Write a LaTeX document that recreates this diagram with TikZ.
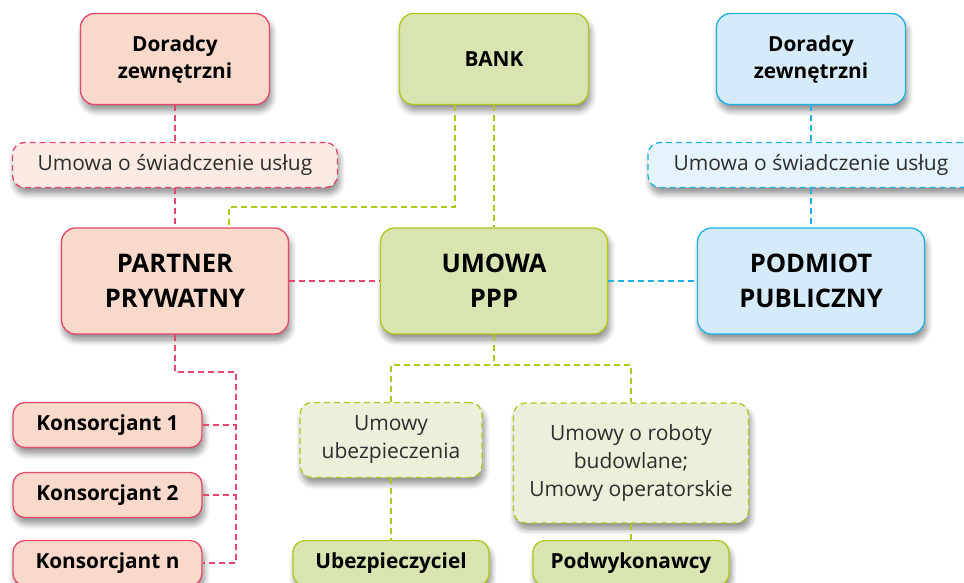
\documentclass[tikz,border=0pt]{standalone}
\usepackage{fontspec}
\setmainfont{Open Sans}
\usetikzlibrary{shadows.blur}
\definecolor{pkF}{HTML}{F9D9C9}
\definecolor{pkL}{HTML}{FCEBE5}
\definecolor{pkD}{HTML}{E5486C}
\definecolor{grF}{HTML}{D8E5B0}
\definecolor{grL}{HTML}{EBF0DA}
\definecolor{grD}{HTML}{B2C61C}
\definecolor{blF}{HTML}{D6EBF9}
\definecolor{blL}{HTML}{E5F3FC}
\definecolor{blD}{HTML}{1EB2E4}
\definecolor{txtgray}{HTML}{2E2E2E}
\tikzset{
  boxbase/.style={rounded corners=14pt, line width=1.3pt, align=center, inner sep=0pt,
    blur shadow={shadow blur steps=8, shadow xshift=2pt, shadow yshift=-6pt, shadow opacity=45, shadow blur radius=6pt}},
  dashpat/.style={dash pattern=on 6pt off 4pt},
  pinkbox/.style={boxbase, draw=pkD, fill=pkF},
  pinkdash/.style={boxbase, dashpat, draw=pkD, fill=pkL},
  greenbox/.style={boxbase, draw=grD, fill=grF},
  greendash/.style={boxbase, dashpat, draw=grD, fill=grL},
  bluebox/.style={boxbase, draw=blD, fill=blF},
  bluedash/.style={boxbase, dashpat, draw=blD, fill=blL},
  bigtxt/.style={font=\fontsize{25.6}{35}\selectfont\bfseries},
  midtxt/.style={font=\fontsize{20.8}{27}\selectfont\bfseries},
  lighttxt/.style={font=\fontsize{21}{28}\selectfont, text=txtgray},
  conn/.style={line width=1.2pt, dashpat},
}
\begin{document}
\begin{tikzpicture}[x=1pt,y=-1pt]
\useasboundingbox (0,0) rectangle (964,582);
% top row
\node[pinkbox, midtxt, minimum width=189pt, minimum height=91pt] (dl) at (175,59) {Doradcy\\zewnętrzni};
\node[greenbox, midtxt, minimum width=189pt, minimum height=91pt] (bank) at (494,59) {BANK};
\node[bluebox, midtxt, minimum width=189pt, minimum height=91pt] (dr) at (811,59) {Doradcy\\zewnętrzni};
% service contracts
\node[pinkdash, lighttxt, minimum width=325pt, minimum height=45pt, rounded corners=12pt] (ul) at (175,165) {Umowa o świadczenie usług};
\node[bluedash, lighttxt, minimum width=326pt, minimum height=45pt, rounded corners=12pt] (ur) at (811,165) {Umowa o świadczenie usług};
% main row
\node[pinkbox, bigtxt, minimum width=227pt, minimum height=106pt] (pp) at (175,281) {PARTNER\\PRYWATNY};
\node[greenbox, bigtxt, minimum width=227pt, minimum height=106pt] (um) at (494,281) {UMOWA\\PPP};
\node[bluebox, bigtxt, minimum width=227pt, minimum height=106pt] (ps) at (811,281) {PODMIOT\\PUBLICZNY};
% consortium members
\node[pinkbox, midtxt, minimum width=189pt, minimum height=45pt, rounded corners=12pt] (k1) at (107.5,425) {Konsorcjant 1};
\node[pinkbox, midtxt, minimum width=189pt, minimum height=45pt, rounded corners=12pt] (k2) at (107.5,495) {Konsorcjant 2};
\node[pinkbox, midtxt, minimum width=189pt, minimum height=45pt, rounded corners=12pt] (kn) at (107.5,563) {Konsorcjant n};
% sub contracts
\node[greendash, lighttxt, minimum width=182pt, minimum height=75pt, rounded corners=12pt] (uu) at (391,440) {Umowy\\ubezpieczenia};
\node[greendash, lighttxt, minimum width=235pt, minimum height=120pt, rounded corners=12pt] (ub) at (631,463) {Umowy o roboty\\budowlane;\\Umowy operatorskie};
\node[greenbox, midtxt, minimum width=196pt, minimum height=45pt, rounded corners=12pt] (ubz) at (391,563) {Ubezpieczyciel};
\node[greenbox, midtxt, minimum width=196pt, minimum height=45pt, rounded corners=12pt] (pod) at (631,563) {Podwykonawcy};
% connectors pink
\draw[conn, pkD] (dl.south) -- (ul.north);
\draw[conn, pkD] (ul.south) -- (pp.north);
\draw[conn, pkD] (pp.east) -- (um.west);
\coordinate (kx) at (236,372);
\draw[conn, pkD] (pp.south) |- (kx) -- (kx |- kn.east) -- (kn.east);
\draw[conn, pkD] (k1.east) -- (k1.east -| kx);
\draw[conn, pkD] (k2.east) -- (k2.east -| kx);
% connectors blue
\draw[conn, blD] (dr.south) -- (ur.north);
\draw[conn, blD] (ur.south) -- (ps.north);
\draw[conn, blD] (um.east) -- (ps.west);
% connectors green
\coordinate (bk) at (229,207);
\draw[conn, grD] ([xshift=-39pt]bank.south) |- (bk) -- (bk |- pp.north);
\draw[conn, grD] (bank.south) -- (um.north);
\coordinate (uy) at (494,365);
\draw[conn, grD] (um.south) -- (uy);
\draw[conn, grD] (uu.north) |- (uy) -| (ub.north);
\draw[conn, grD] (uu.south) -- (ubz.north);
\draw[conn, grD] (ub.south) -- (pod.north);
\end{tikzpicture}
\end{document}
